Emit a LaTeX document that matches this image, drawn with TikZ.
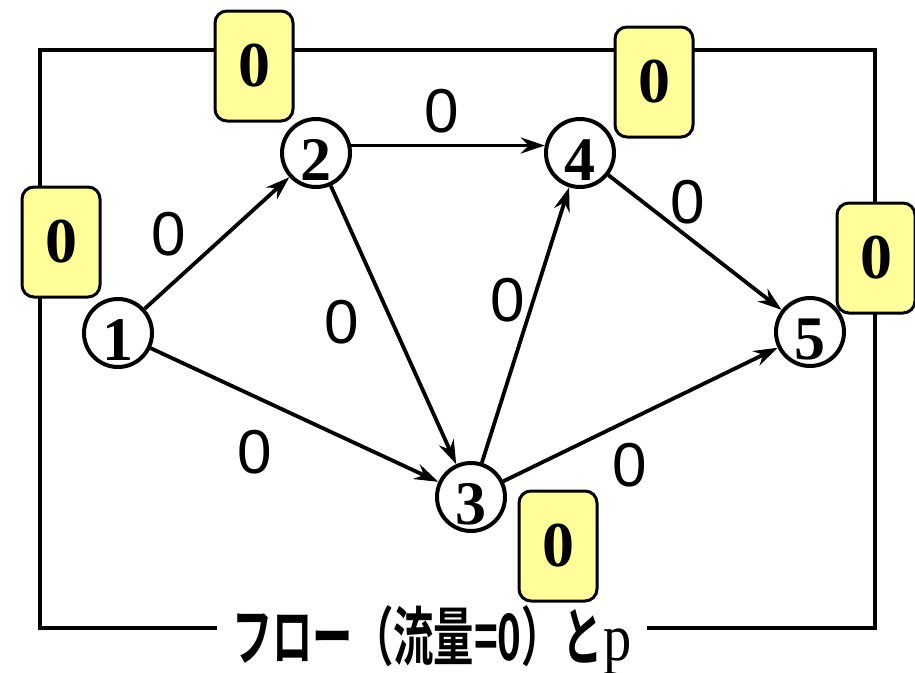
\documentclass[tikz,border=0pt]{standalone}
\usepackage{fontspec}
\setmainfont{Liberation Serif}
\setsansfont{Liberation Sans}
\newfontfamily\cjk{Noto Sans CJK JP Bold}
\usepackage{tikz}
\usetikzlibrary{calc,shapes,arrows.meta}
\definecolor{boxyellow}{HTML}{FFFF99}

\tikzset{
  vertex/.style={circle,draw,line width=4pt,minimum size=68pt,inner sep=0pt,fill=white,
    font=\fontsize{62}{62}\selectfont\bfseries,text height=54pt,text depth=0pt},
  flowbox/.style={rectangle,rounded corners=12pt,draw,line width=3pt,fill=boxyellow,
    minimum width=78pt,minimum height=110pt,font=\fontsize{64}{64}\selectfont\bfseries},
  flowlabel/.style={font=\sffamily\fontsize{62}{62}\selectfont,inner sep=0pt},
  flowarrow/.style={line width=3.8pt,-{Stealth[length=24pt,width=16pt,inset=8pt]}}
}

\begin{document}
\begin{tikzpicture}[x=1pt,y=-1pt]
        \useasboundingbox (0,0) rectangle (915,672);
        % title and frame
        \node[font=\fontsize{64}{64}\selectfont,xscale=0.63,inner xsep=24pt,inner ysep=0pt,
            text height=76pt,text depth=12pt] (title) at (432,628)
            {{\cjk フロー（流量=0）と}\kern2pt\scalebox{1.4}[1.05]{p}\hspace{8pt}};
        \draw[line width=4pt] (title.west) -- (40,628) -- (40,50) -- (875,50) -- (875,628) -- (title.east);
        % vertices
        \node[vertex] (n1) at (118,333) {1};
        \node[vertex] (n2) at (316,153) {2};
        \node[vertex] (n3) at (471,497) {3};
        \node[vertex] (n4) at (580,153) {4};
        \node[vertex] (n5) at (810,332) {5};
        % arcs
        \draw[flowarrow] (n1) -- (n2);
        \draw[flowarrow] (n1) -- (n3);
        \draw[flowarrow] (n2) -- (n3);
        \draw[flowarrow] (n2.12) -- (n4.168);
        \draw[flowarrow] (n3) -- (n4);
        \draw[flowarrow] (n3) -- (n5);
        \draw[flowarrow] (n4) -- (n5);
        % flows on arcs
        \foreach \name/\x/\y in {f12/169/234,f13/255/452,f23/342/322,f24/442/111,
            f34/508/300,f35/630/465,f45/688/202}
        \node[flowlabel] (\name) at (\x,\y) {0};
        % potentials p
        \foreach \name/\x/\y in {p1/61/242,p2/254/66,p3/558/546,p4/654/82,p5/876/258}
        \node[flowbox] (\name) at (\x,\y) {0};
    \end{tikzpicture}
\end{document}
